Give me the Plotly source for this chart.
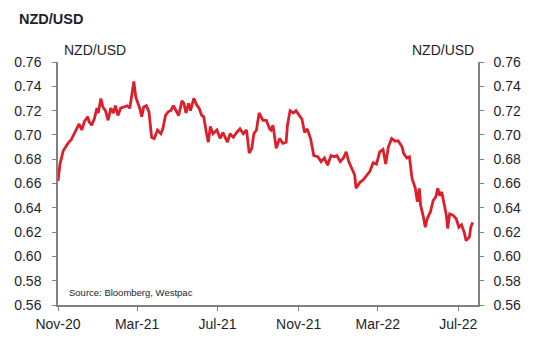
import plotly.graph_objects as go

dates = [
    "2020-11-01", "2020-11-04", "2020-11-09", "2020-11-16", "2020-11-21", "2020-11-26",
    "2020-11-29", "2020-12-03", "2020-12-07", "2020-12-11", "2020-12-16", "2020-12-18",
    "2020-12-22", "2020-12-26", "2020-12-30", "2021-01-01", "2021-01-05", "2021-01-08",
    "2021-01-12", "2021-01-16", "2021-01-20", "2021-01-24", "2021-01-27", "2021-01-31",
    "2021-02-04", "2021-02-09", "2021-02-14", "2021-02-18", "2021-02-21", "2021-02-24",
    "2021-02-27", "2021-03-02", "2021-03-05", "2021-03-08", "2021-03-11", "2021-03-15",
    "2021-03-19", "2021-03-23", "2021-03-27", "2021-04-01", "2021-04-06", "2021-04-09",
    "2021-04-13", "2021-04-17", "2021-04-21", "2021-04-25", "2021-04-29", "2021-05-03",
    "2021-05-08", "2021-05-11", "2021-05-14", "2021-05-18", "2021-05-21", "2021-05-26",
    "2021-05-31", "2021-06-03", "2021-06-07", "2021-06-10", "2021-06-14", "2021-06-17",
    "2021-06-20", "2021-06-24", "2021-06-30", "2021-07-05", "2021-07-09", "2021-07-13",
    "2021-07-16", "2021-07-20", "2021-07-25", "2021-07-30", "2021-08-04", "2021-08-09",
    "2021-08-14", "2021-08-18", "2021-08-22", "2021-08-25", "2021-08-29", "2021-09-02",
    "2021-09-08", "2021-09-13", "2021-09-18", "2021-09-20", "2021-09-23", "2021-09-28",
    "2021-10-03", "2021-10-08", "2021-10-13", "2021-10-15", "2021-10-19", "2021-10-24",
    "2021-10-28", "2021-11-02", "2021-11-06", "2021-11-10", "2021-11-14", "2021-11-19",
    "2021-11-24", "2021-11-30", "2021-12-05", "2021-12-10", "2021-12-15", "2021-12-20",
    "2021-12-25", "2021-12-29", "2022-01-03", "2022-01-08", "2022-01-12", "2022-01-16",
    "2022-01-21", "2022-01-25", "2022-01-27", "2022-02-02", "2022-02-07", "2022-02-12",
    "2022-02-17", "2022-02-22", "2022-02-27", "2022-03-04", "2022-03-09", "2022-03-13",
    "2022-03-17", "2022-03-22", "2022-03-27", "2022-04-01", "2022-04-07", "2022-04-09",
    "2022-04-14", "2022-04-18", "2022-04-22", "2022-04-27", "2022-04-30", "2022-05-03",
    "2022-05-05", "2022-05-09", "2022-05-12", "2022-05-15", "2022-05-20", "2022-05-24",
    "2022-05-28", "2022-05-31", "2022-06-03", "2022-06-06", "2022-06-10", "2022-06-13",
    "2022-06-15", "2022-06-18", "2022-06-23", "2022-06-28", "2022-07-02", "2022-07-06",
    "2022-07-10", "2022-07-13", "2022-07-18", "2022-07-20", "2022-07-23",
]
nzdusd = [
    0.662, 0.676, 0.687, 0.693, 0.696, 0.702,
    0.705, 0.709, 0.704, 0.711, 0.715, 0.711,
    0.708, 0.713, 0.722, 0.718, 0.730, 0.723,
    0.720, 0.712, 0.722, 0.718, 0.724, 0.716,
    0.722, 0.723, 0.724, 0.722, 0.733, 0.744,
    0.731, 0.727, 0.722, 0.715, 0.723, 0.724,
    0.719, 0.698, 0.697, 0.704, 0.701, 0.705,
    0.716, 0.719, 0.720, 0.724, 0.720, 0.716,
    0.728, 0.726, 0.718, 0.726, 0.720, 0.730,
    0.724, 0.722, 0.716, 0.715, 0.702, 0.694,
    0.707, 0.701, 0.704, 0.697, 0.702, 0.697,
    0.694, 0.701, 0.698, 0.702, 0.705, 0.701,
    0.704, 0.685, 0.689, 0.701, 0.704, 0.718,
    0.712, 0.712, 0.705, 0.704, 0.708, 0.689,
    0.697, 0.693, 0.694, 0.708, 0.720, 0.718,
    0.720, 0.716, 0.713, 0.702, 0.705, 0.697,
    0.683, 0.682, 0.678, 0.681, 0.675, 0.683,
    0.682, 0.683, 0.678, 0.681, 0.686, 0.678,
    0.672, 0.667, 0.656, 0.661, 0.663, 0.667,
    0.670, 0.677, 0.676, 0.686, 0.688, 0.676,
    0.690, 0.697, 0.695, 0.695, 0.690, 0.685,
    0.681, 0.682, 0.664, 0.656, 0.645, 0.656,
    0.642, 0.633, 0.624, 0.631, 0.637, 0.646,
    0.649, 0.656, 0.650, 0.653, 0.642, 0.634,
    0.623, 0.635, 0.634, 0.631, 0.624, 0.626,
    0.620, 0.613, 0.616, 0.624, 0.628,
]

tick_dates = ["2020-11-01", "2021-03-01", "2021-07-01", "2021-11-01", "2022-03-01", "2022-07-01"]
tick_labels = ["Nov-20", "Mar-21", "Jul-21", "Nov-21", "Mar-22", "Jul-22"]
y_ticks = [0.56, 0.58, 0.60, 0.62, 0.64, 0.66, 0.68, 0.70, 0.72, 0.74, 0.76]

FONT = "Liberation Sans, Arial, sans-serif"
TXT = "#1e1e2a"
AX = "#808080"
RED = "#dc1f2b"

W, H = 534, 339
L, R, T, B = 58, 56, 62, 34
PW, PH = W - L - R, H - T - B

fig = go.Figure()
fig.add_trace(go.Scatter(x=dates, y=nzdusd, mode="lines",
                         line=dict(color=RED, width=2.8), showlegend=False,
                         hoverinfo="skip"))
fig.add_trace(go.Scatter(x=dates, y=nzdusd, mode="lines", yaxis="y2",
                         line=dict(color=RED, width=2.8), opacity=0,
                         showlegend=False, hoverinfo="skip"))

yax = dict(range=[0.56, 0.76], tickvals=y_ticks, tickformat=".2f", automargin=False,
           showgrid=False, zeroline=False, showline=True, linecolor=AX, linewidth=1.5,
           ticks="outside", ticklen=4, tickcolor=AX, tickwidth=1,
           tickfont=dict(family=FONT, size=14, color=TXT))

fig.update_layout(
    width=W, height=H,
    margin=dict(l=L, r=R, t=T, b=B, autoexpand=False),
    paper_bgcolor="white", plot_bgcolor="white",
    font=dict(family=FONT, color=TXT),
    xaxis=dict(range=["2020-11-01", "2022-07-31"], tickvals=tick_dates, ticktext=tick_labels,
               automargin=False,
               showgrid=False, zeroline=False, showline=True, linecolor=AX, linewidth=1.5,
               ticks="outside", ticklen=4, tickcolor=AX, tickwidth=1,
               ticklabelstandoff=1,
               tickfont=dict(family=FONT, size=14, color=TXT)),
    yaxis=dict(**yax, side="left", ticklabelstandoff=8),
    yaxis2=dict(**yax, side="right", overlaying="y", ticklabelstandoff=7),
)

def px(x):
    return (x - L) / PW
def py(y):
    return (H - B - y) / PH

fig.add_annotation(text="<b>NZD/USD</b>", x=px(17), y=py(19.5), xref="paper", yref="paper",
                   xanchor="left", yanchor="middle", showarrow=False,
                   font=dict(family=FONT, size=14.5, color=TXT))
fig.add_annotation(text="NZD/USD", x=px(62), y=py(49.5), xref="paper", yref="paper",
                   xanchor="left", yanchor="middle", showarrow=False,
                   font=dict(family=FONT, size=14, color=TXT))
fig.add_annotation(text="NZD/USD", x=px(476), y=py(49.5), xref="paper", yref="paper",
                   xanchor="right", yanchor="middle", showarrow=False,
                   font=dict(family=FONT, size=14, color=TXT))
fig.add_annotation(text="Source: Bloomberg, Westpac", x=px(67), y=py(292), xref="paper", yref="paper",
                   xanchor="left", yanchor="middle", showarrow=False,
                   font=dict(family=FONT, size=9.5, color=TXT))

fig.write_html("out.html")
